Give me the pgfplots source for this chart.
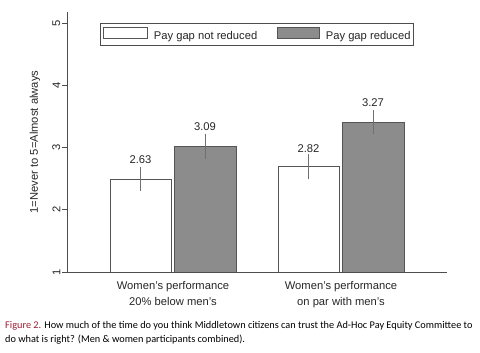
\documentclass[border=0pt]{standalone}
\usepackage{pgfplots}
\pgfplotsset{compat=1.18}
\usepackage{fontspec}
\setmainfont{Liberation Sans}
\newfontfamily\capfont{Carlito}
\definecolor{axgray}{HTML}{4D4D4D}
\definecolor{barborder}{HTML}{555555}
\definecolor{barfill}{HTML}{8C8C8C}
\definecolor{errgray}{HTML}{707070}
\definecolor{figred}{HTML}{9E1B32}
\pgfplotsset{
  whitebarlegend/.style={legend image code/.code={\draw[##1] (0bp,-1.5bp) rectangle (44bp,9.5bp);}},
  graybarlegend/.style={legend image code/.code={\draw[##1] (0bp,-1.5bp) rectangle (42bp,9.5bp);}},
}
\begin{document}
\begin{tikzpicture}[font=\fontsize{11.2bp}{16bp}\selectfont]
\begin{axis}[
  at={(67bp,81bp)}, anchor=south west,
  scale only axis, width=380bp, height=260bp,
  xmin=67, xmax=447, ymin=1, ymax=5.18,
  axis x line*=bottom, axis y line*=left,
  axis line style={axgray, line width=0.7bp},
  xtick={173,341},
  xticklabels={{Women's performance\\20\% below men's},{Women's performance\\on par with men's}},
  xticklabel style={align=center, text=black!85, yshift=-1bp},
  x tick style={draw=none},
  ytick={1,2,3,4,5},
  y tick style={axgray, line width=0.7bp},
  tick align=outside, major tick length=5bp,
  yticklabel style={rotate=90, anchor=south, inner sep=1.5bp, text=black!85},
  /pgf/number format/assume math mode=true,
  ylabel={1=Never to 5=Almost always},
  ylabel style={at={(axis description cs:-0.0842,0.5)}, anchor=center, rotate=0, text=black!85},
  legend columns=2,
  legend style={at={(axis description cs:0.0868,0.958)}, anchor=north west,
    draw=axgray, line width=0.6bp, inner xsep=3bp, inner ysep=3.5bp,
    nodes={inner sep=0pt, text=black!85},
    column sep=6bp,
    /tikz/every even column/.append style={column sep=20bp}},
  legend cell align=left,
]
\addplot[ybar, bar width=61, bar shift=0, fill=white, draw=barborder, line width=0.6bp,
  whitebarlegend,
  error bars/.cd, y dir=both, y explicit,
  error bar style={errgray, line width=0.8bp},
  error mark options={errgray, mark size=3bp, line width=0.9bp}]
  coordinates {(140.5,2.495) +- (0,0.145) (308.5,2.695) +- (0,0.155)};
\addlegendentry{Pay gap not reduced}
\addplot[ybar, bar width=62, bar shift=0, fill=barfill, draw=barborder, line width=0.6bp,
  graybarlegend,
  error bars/.cd, y dir=both, y explicit,
  error bar style={errgray, line width=0.8bp},
  error mark options={errgray, mark size=3bp, line width=0.9bp}]
  coordinates {(205,3.02) +- (0,0.155) (373,3.41) +- (0,0.15)};
\addlegendentry{Pay gap reduced}
\addplot[draw=none, nodes near coords, point meta=explicit symbolic,
  every node near coord/.append style={anchor=center, text=black!85}, forget plot]
  coordinates {(140.5,2.80) [2.63] (205,3.336) [3.09] (308.5,2.99) [2.82] (373,3.73) [3.27]};
\end{axis}
\node[anchor=base west, inner sep=0pt, font=\capfont\fontsize{10.3bp}{12bp}\selectfont] at (5bp,25bp)
  {\textcolor{figred}{Figure 2.} How much of the time do you think Middletown citizens can trust the Ad-Hoc Pay Equity Committee to};
\node[anchor=base west, inner sep=0pt, font=\capfont\fontsize{10.3bp}{12bp}\selectfont] at (5bp,11bp)
  {do what is right? (Men \& women participants combined).};
\pgfresetboundingbox
\path[use as bounding box] (0,0) rectangle (480bp,353bp);
\end{tikzpicture}
\end{document}
